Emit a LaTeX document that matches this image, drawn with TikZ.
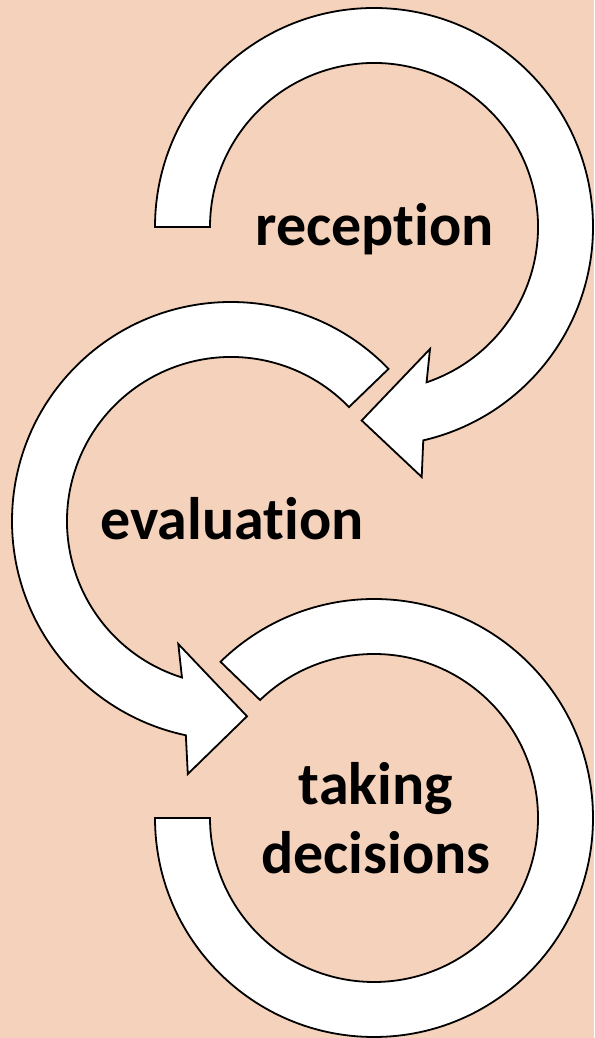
\documentclass[tikz,border=0pt]{standalone}
\usepackage{fontspec}
\setmainfont{Carlito}[Ligatures=NoCommon]
\usetikzlibrary{calc}
\definecolor{peach}{RGB}{245,210,187}
\begin{document}
\begin{tikzpicture}[x=1pt,y=1pt,
  band/.style={fill=white,draw=black,line width=1.8pt,line join=miter},
  txt/.style={font=\fontsize{60}{69}\selectfont\bfseries,anchor=base,inner sep=0pt}]
% background and page frame
\fill[peach] (0,0) rectangle (594,1038);
\useasboundingbox (0,0) rectangle (594,1038);
% ring centres
\coordinate (c1) at (374,811);
\coordinate (c2) at (231,517);
\coordinate (c3) at (374,220);
% first circular arrow: clockwise, head pointing lower left
\draw[band] ($(c1)+(180:219)$) arc[start angle=180,end angle=-77,radius=219]
  -- (421.7,561) -- (361.7,617.5) -- (430,689)
  -- ($(c1)+(-71.3:164)$) arc[start angle=-71.3,end angle=180,radius=164] -- cycle;
% second circular arrow: counter-clockwise, head pointing right
\draw[band] ($(c2)+(44:219)$) arc[start angle=44,end angle=258.1,radius=219]
  -- (187.8,264) -- (247,321.7) -- (178.3,394)
  -- ($(c2)+(252.6:164)$) arc[start angle=252.6,end angle=44,radius=164] -- cycle;
% third ring, open at the upper left
\draw[band] ($(c3)+(180:219)$) arc[start angle=180,end angle=494.5,radius=219]
  -- ($(c3)+(134:164)$) arc[start angle=494,end angle=180,radius=164] -- cycle;
% labels
\node[txt] (reception) at (374.5,792) {reception};
\node[txt] (evaluation) at (232,498) {evaluation};
\node[txt] (taking) at (376,233) {taking};
\node[txt] (decisions) at (376,164) {decisions};
\end{tikzpicture}
\end{document}
